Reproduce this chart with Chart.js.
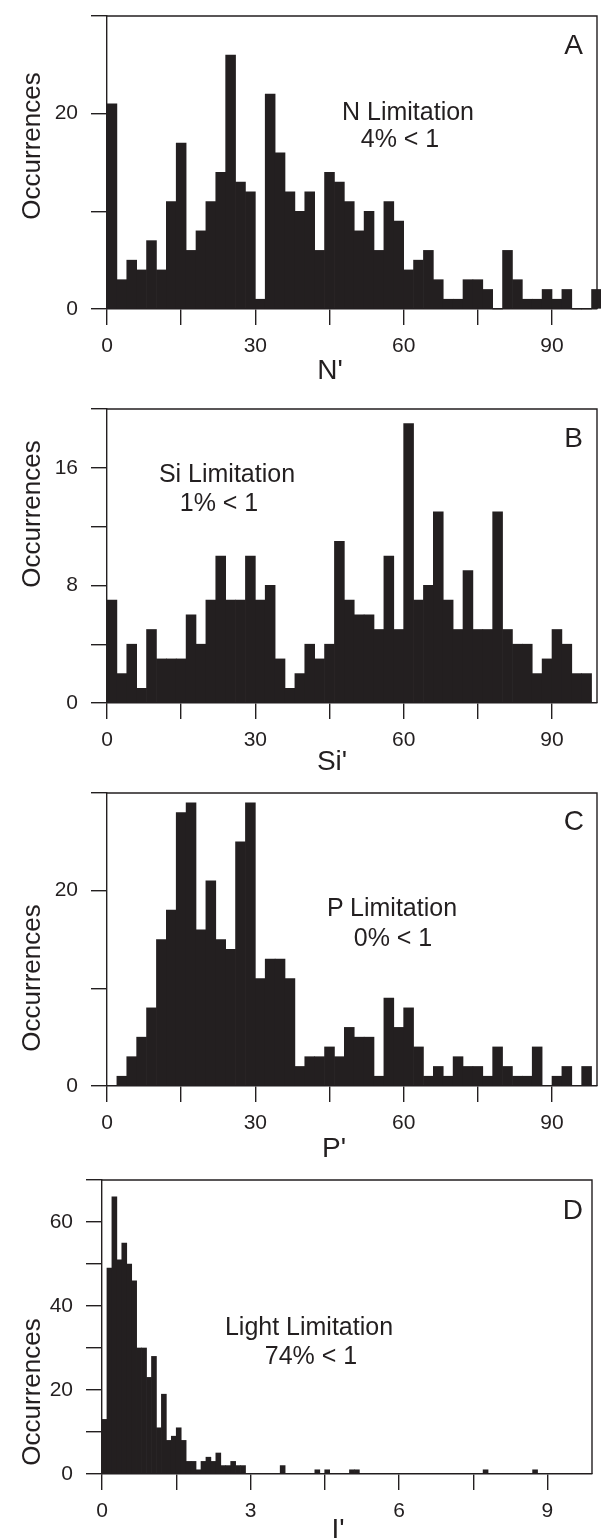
<!DOCTYPE html>
<html>
<head>
<meta charset="utf-8">
<script src="https://cdn.jsdelivr.net/npm/chart.js@4.4.0/dist/chart.umd.min.js"></script>
<style>
html, body { margin: 0; padding: 0; background: #fff; }
body { width: 601px; height: 1538px; position: relative; overflow: hidden;
       font-family: "Liberation Sans", Arial, sans-serif; color: #231f20; }
canvas { position: absolute; left: 0; }
.t { position: absolute; white-space: nowrap; line-height: 1; transform: translateX(-50%); }
.ann { font-size: 25px; }
.tag { font-size: 28px; transform: translateX(-100%); }
.ttl { font-size: 28px; }
.occ { font-size: 26px; transform: translate(-50%, -50%) rotate(-90deg); }
</style>
</head>
<body>
<canvas id="chartA"></canvas>
<canvas id="chartB"></canvas>
<canvas id="chartC"></canvas>
<canvas id="chartD"></canvas>

<!-- panel texts -->
<div class="t occ" style="left:31px; top:146px">Occurrences</div>
<div class="t ann" style="left:408px; top:99px">N Limitation</div>
<div class="t ann" style="left:400px; top:126px">4% &lt; 1</div>
<div class="t tag" style="left:583px; top:31px">A</div>
<div class="t ttl" style="left:330px; top:356px">N'</div>

<div class="t occ" style="left:31px; top:514px">Occurrences</div>
<div class="t ann" style="left:227px; top:461px">Si Limitation</div>
<div class="t ann" style="left:219px; top:490px">1% &lt; 1</div>
<div class="t tag" style="left:583px; top:424px">B</div>
<div class="t ttl" style="left:332px; top:747px">Si'</div>

<div class="t occ" style="left:31px; top:978px">Occurrences</div>
<div class="t ann" style="left:392px; top:895px">P Limitation</div>
<div class="t ann" style="left:393px; top:925px">0% &lt; 1</div>
<div class="t tag" style="left:584px; top:807px">C</div>
<div class="t ttl" style="left:334px; top:1134px">P'</div>

<div class="t occ" style="left:31px; top:1392px">Occurrences</div>
<div class="t ann" style="left:309px; top:1314px">Light Limitation</div>
<div class="t ann" style="left:311px; top:1343px">74% &lt; 1</div>
<div class="t tag" style="left:583px; top:1196px">D</div>
<div class="t ttl" style="left:338px; top:1515px">I'</div>

<script>
// histogram counts, one value per bin
const nCounts = [21, 3, 5, 4, 7, 4, 11, 17, 6, 8, 11, 14, 26, 13, 12, 1, 22, 16, 12, 10,
                 12, 6, 14, 13, 11, 8, 10, 6, 11, 9, 4, 5, 6, 3, 1, 1, 3, 3, 2, 0,
                 6, 3, 1, 1, 2, 1, 2, 0, 0, 2];
const siCounts = [7, 2, 4, 1, 5, 3, 3, 3, 6, 4, 7, 10, 7, 7, 10, 7, 8, 3, 1, 2,
                  4, 3, 4, 11, 7, 6, 6, 5, 10, 5, 19, 7, 8, 13, 7, 5, 9, 5, 5, 13,
                  5, 4, 4, 2, 3, 5, 4, 2, 2];
const pCounts = [0, 1, 3, 5, 8, 15, 18, 28, 29, 16, 21, 15, 14, 25, 29, 11, 13, 13, 11, 2,
                 3, 3, 4, 3, 6, 5, 5, 1, 9, 6, 8, 4, 1, 2, 1, 3, 2, 2, 1, 4,
                 2, 1, 1, 4, 0, 1, 2, 0, 2];
const lightCounts = [13, 49, 66, 51, 55, 50, 46, 30, 30, 23, 28, 11, 19, 8, 9, 11, 8, 3, 3, 1,
                     3, 4, 3, 5, 2, 2, 3, 2, 2, 0, 0, 0, 0, 0, 0, 0, 2, 0, 0, 0,
                     0, 0, 0, 1, 0, 1, 0, 0, 0, 0, 1, 1, 0, 0, 0, 0, 0, 0, 0, 0,
                     0, 0, 0, 0, 0, 0, 0, 0, 0, 0, 0, 0, 0, 0, 0, 0, 0, 1, 0, 0,
                     0, 0, 0, 0, 0, 0, 0, 1, 0, 0, 0, 0, 0, 0, 0, 0, 0, 0, 0];

// bin widths
const nutrientBin = 2;
const lightBin = 0.1;

// tick labels
const nutrientXLabels = [0, 30, 60, 90];
const lightXLabels = [0, 3, 6, 9];
const yLabelsA = [0, 20];
const yLabelsB = [0, 8, 16];
const yLabelsC = [0, 20];
const yLabelsD = [0, 20, 40, 60];

const ink = '#231f20';
const tickFont = { family: '"Liberation Sans", Arial, sans-serif', size: 21 };

// top and right frame lines
const frame = {
    id: 'frame',
    afterDraw(chart) {
        const { ctx, chartArea: a } = chart;
        ctx.save();
        ctx.strokeStyle = ink;
        ctx.lineWidth = 1.4;
        ctx.beginPath();
        ctx.moveTo(a.left, a.top);
        ctx.lineTo(a.right, a.top);
        ctx.lineTo(a.right, a.bottom);
        ctx.stroke();
        ctx.restore();
    }
};

function hasLabel(list, v) {
    return list.some(l => Math.abs(l - v) < 1e-6);
}

function makePanel(id, box, counts, binW, xMax, xStep, xLabels, yMax, yStep, yLabels, clipBars) {
    const axisH = 60;
    const padTop = 14;
    const canvas = document.getElementById(id);
    canvas.width = 601;
    canvas.height = padTop + (box.bottom - box.top) + axisH;
    canvas.style.top = (box.top - padTop) + 'px';

    const points = counts.map((c, i) => ({ x: i * binW + binW / 2, y: c }));

    return new Chart(canvas, {
        type: 'bar',
        data: {
            datasets: [{
                data: points,
                backgroundColor: ink,
                borderWidth: 0,
                barPercentage: 1,
                categoryPercentage: 1,
                clip: clipBars ? undefined : false
            }]
        },
        options: {
            responsive: false,
            animation: false,
            devicePixelRatio: 1,
            layout: { padding: { top: padTop, right: 601 - box.right, left: 0, bottom: 0 } },
            plugins: { legend: { display: false }, tooltip: { enabled: false } },
            scales: {
                x: {
                    type: 'linear',
                    min: 0,
                    max: xMax,
                    offset: false,
                    grid: { offset: false, drawOnChartArea: false, drawTicks: true, tickLength: 16, color: ink, lineWidth: 1.4 },
                    border: { display: true, color: ink, width: 1.4 },
                    ticks: {
                        stepSize: xStep, includeBounds: false, autoSkip: false, maxRotation: 0,
                        padding: 9, color: ink, font: tickFont,
                        callback: v => hasLabel(xLabels, v) ? String(Math.round(v)) : ''
                    },
                    afterFit: s => { s.height = axisH; s.paddingLeft = 0; s.paddingRight = 0; }
                },
                y: {
                    min: 0,
                    max: yMax,
                    grid: { drawOnChartArea: false, drawTicks: true, tickLength: 16, color: ink, lineWidth: 1.4 },
                    border: { display: true, color: ink, width: 1.4 },
                    ticks: {
                        stepSize: yStep, autoSkip: false, padding: 13, color: ink, font: tickFont,
                        callback: v => hasLabel(yLabels, v) ? String(v) : ''
                    },
                    afterFit: s => { s.width = box.left; s.paddingTop = 0; s.paddingBottom = 0; }
                }
            }
        },
        plugins: [frame]
    });
}

makePanel('chartA', { top: 16, bottom: 309, left: 107, right: 597 }, nCounts, nutrientBin, 99.1, 15, nutrientXLabels, 30, 10, yLabelsA, false);
makePanel('chartB', { top: 409, bottom: 703, left: 107, right: 597 }, siCounts, nutrientBin, 99.1, 15, nutrientXLabels, 20, 4, yLabelsB, true);
makePanel('chartC', { top: 793, bottom: 1086, left: 107, right: 597 }, pCounts, nutrientBin, 99.1, 15, nutrientXLabels, 30, 10, yLabelsC, true);
makePanel('chartD', { top: 1180, bottom: 1474, left: 102, right: 592 }, lightCounts, lightBin, 9.9, 1.5, lightXLabels, 70, 10, yLabelsD, true);
</script>
</body>
</html>
